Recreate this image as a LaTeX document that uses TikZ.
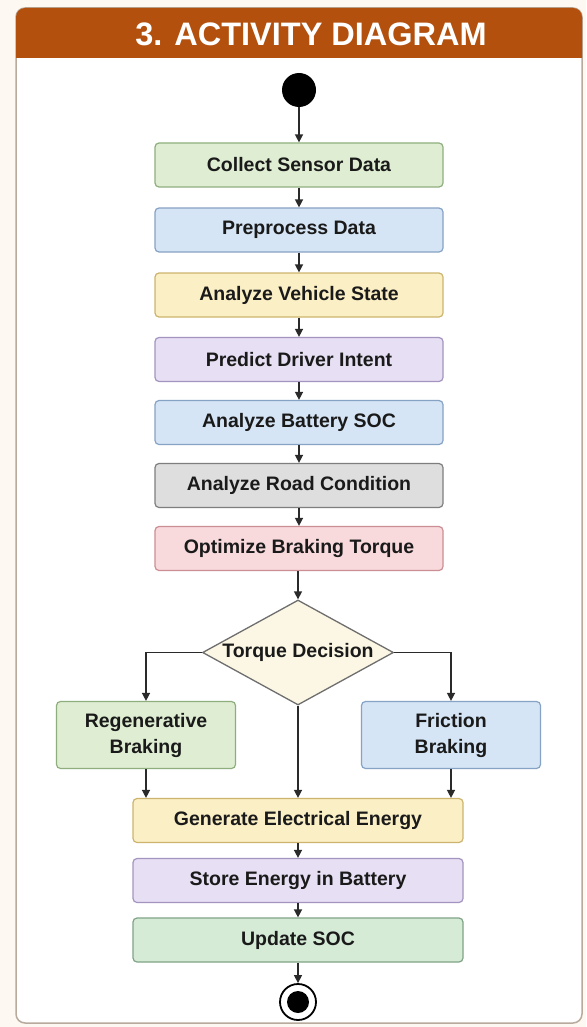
\documentclass[tikz,border=0pt]{standalone}
\usepackage{fontspec}
\setmainfont{Liberation Sans}
\usetikzlibrary{shapes.geometric,arrows.meta}
\definecolor{bgc}{HTML}{FDF9F2}
\definecolor{framec}{HTML}{B8AA9C}
\definecolor{hdrc}{HTML}{B3500E}
\definecolor{txtc}{HTML}{1A1A1A}
\definecolor{linec}{HTML}{2A2A2A}
\definecolor{gfill}{HTML}{DFEED3}\definecolor{gdraw}{HTML}{8FAE7E}
\definecolor{bfill}{HTML}{D5E5F6}\definecolor{bdraw}{HTML}{86A2C4}
\definecolor{yfill}{HTML}{FBEFC5}\definecolor{ydraw}{HTML}{CDB46E}
\definecolor{pfill}{HTML}{E7DFF3}\definecolor{pdraw}{HTML}{A394C0}
\definecolor{kfill}{HTML}{DEDEDE}\definecolor{kdraw}{HTML}{7E7E7E}
\definecolor{rfill}{HTML}{F8D9DC}\definecolor{rdraw}{HTML}{CC8E95}
\definecolor{ufill}{HTML}{D5EBD6}\definecolor{udraw}{HTML}{7FA387}
\definecolor{dfill}{HTML}{FCF7E4}\definecolor{ddraw}{HTML}{6E6E6E}
\begin{document}
\begin{tikzpicture}[x=1pt,y=-1pt,
  actbox/.style={rectangle, rounded corners=4pt, minimum width=288pt, minimum height=44pt,
    line width=1.2pt, inner sep=2pt, text=txtc, align=center,
    font=\bfseries\fontsize{19.5}{26}\selectfont},
  widebox/.style={actbox, minimum width=330pt},
  sidebox/.style={actbox, minimum width=179pt, minimum height=67pt},
  grn/.style={fill=gfill, draw=gdraw},
  blu/.style={fill=bfill, draw=bdraw},
  yel/.style={fill=yfill, draw=ydraw},
  pur/.style={fill=pfill, draw=pdraw},
  gry/.style={fill=kfill, draw=kdraw},
  pnk/.style={fill=rfill, draw=rdraw},
  upd/.style={fill=ufill, draw=udraw},
  decision/.style={diamond, aspect=1.82, minimum width=191pt, minimum height=105pt, inner sep=0pt,
    fill=dfill, draw=ddraw, line width=1.3pt, text=txtc,
    font=\bfseries\fontsize{19.5}{24}\selectfont},
  arr/.style={draw=linec, line width=1.4pt, -{Triangle[length=8pt,width=8pt]}}
]
\useasboundingbox (0,0) rectangle (586,1027);
\fill[bgc] (0,0) rectangle (586,1027);
\draw[framec, fill=white, line width=1.5pt, rounded corners=9pt] (16,8) rectangle (582,1023);
\fill[hdrc] (16,58) [rounded corners=9pt] -- (16,8) -- (582,8) [sharp corners] -- (582,58) -- cycle;
\node[text=white, font=\bfseries\fontsize{32.5}{36}\selectfont] (title) at (311,34) {3. ACTIVITY DIAGRAM};

\node[circle, fill=black, minimum size=34pt, inner sep=0pt] (start) at (299,90) {};
\node[actbox, grn] (n1) at (299,165) {Collect Sensor Data};
\node[actbox, blu] (n2) at (299,230) {Preprocess Data};
\node[actbox, yel] (n3) at (299,295) {Analyze Vehicle State};
\node[actbox, pur] (n4) at (299,359.5) {Predict Driver Intent};
\node[actbox, blu] (n5) at (299,422.5) {Analyze Battery SOC};
\node[actbox, gry] (n6) at (299,485.5) {Analyze Road Condition};
\node[actbox, pnk] (n7) at (299,548.5) {Optimize Braking Torque};
\node[decision] (dec) at (298,652.5) {Torque Decision};
\node[sidebox, grn] (regen) at (146,735) {Regenerative\\Braking};
\node[sidebox, blu] (fric) at (451,735) {Friction\\Braking};
\node[widebox, yel] (gen) at (298,820.5) {Generate Electrical Energy};
\node[widebox, pur] (store) at (298,880.5) {Store Energy in Battery};
\node[widebox, upd] (upd) at (298,940) {Update SOC};
\node[circle, fill=white, draw=black, line width=1.8pt, minimum size=36pt, inner sep=0pt] (end) at (298,1002) {};
\node[circle, fill=black, minimum size=22pt, inner sep=0pt] (endin) at (end.center) {};

\draw[arr] (start) -- (n1);
\draw[arr] (n1) -- (n2);
\draw[arr] (n2) -- (n3);
\draw[arr] (n3) -- (n4);
\draw[arr] (n4) -- (n5);
\draw[arr] (n5) -- (n6);
\draw[arr] (n6) -- (n7);
\draw[arr] (n7.south -| dec.north) -- (dec.north);
\draw[arr] (dec.west) -| (regen.north);
\draw[arr] (dec.east) -| (fric.north);
\draw[arr] (dec.south) -- (gen.north);
\draw[arr] (regen.south) -- (regen.south |- gen.north);
\draw[arr] (fric.south) -- (fric.south |- gen.north);
\draw[arr] (gen) -- (store);
\draw[arr] (store) -- (upd);
\draw[arr] (upd) -- (end);
\end{tikzpicture}
\end{document}
